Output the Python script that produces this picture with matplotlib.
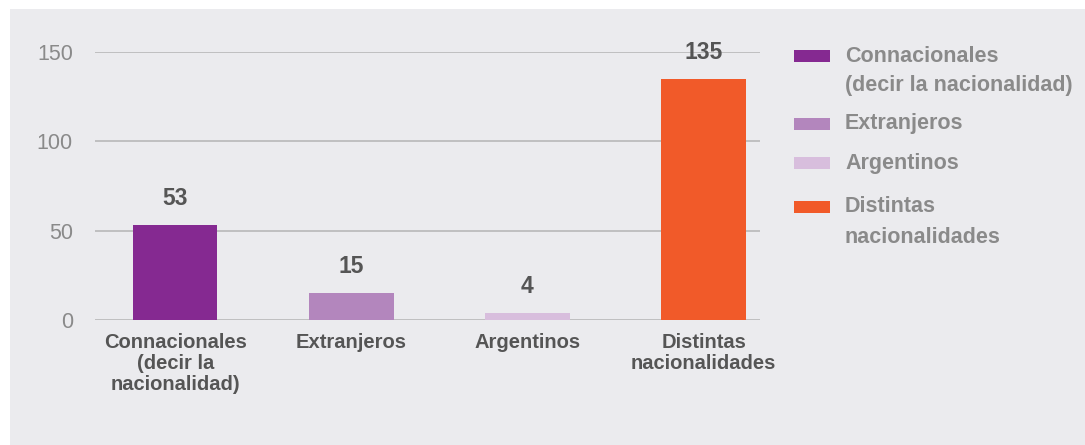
import numpy as np
import matplotlib
matplotlib.use('Agg')
import matplotlib.pyplot as plt
from matplotlib.patches import Rectangle

categories = ['Connacionales\n(decir la\nnacionalidad)', 'Extranjeros', 'Argentinos', 'Distintas\nnacionalidades']
legend_labels = ['Connacionales\n(decir la nacionalidad)', 'Extranjeros', 'Argentinos', 'Distintas\nnacionalidades']
values = [53, 15, 4, 135]
colors = ['#852991', '#b386bd', '#d8bedd', '#f15a29']
yticks = [0, 50, 100, 150]

plt.rcParams['font.family'] = ['Liberation Sans', 'DejaVu Sans']

W, H = 1085, 445
fig = plt.figure(figsize=(W / 100, H / 100), dpi=100, facecolor='white')

# grey panel
fig.patches.append(Rectangle((10 / W, 0), 1, (H - 9) / H, transform=fig.transFigure,
                             facecolor='#ebebee', edgecolor='none', zorder=-10))

ax = fig.add_axes([95 / W, 125 / H, (760 - 95) / W, (320 - 52) / H])
ax.set_facecolor('none')
ax.set_zorder(1)

x = np.arange(len(values))
bars = ax.bar(x, values, width=0.48, color=colors, zorder=3)

for xi, v in zip(x, values):
    ax.annotate(str(v), (xi, v), xytext=(0, 19), textcoords='offset points',
                ha='center', va='center', fontsize=16.5, fontweight='bold',
                color='#555555', annotation_clip=False, zorder=4)

ax.set_xlim(-0.455, 3.32)
ax.set_ylim(0, 150)
ax.set_yticks(yticks)
ax.set_yticklabels([str(t) for t in yticks])
ax.set_xticks(x)
ax.set_xticklabels(categories, fontsize=14.5, fontweight='bold', color='#555555', linespacing=1.15)
ax.tick_params(axis='y', length=0, pad=16, labelsize=15.5, labelcolor='#8a8a8a')
ax.tick_params(axis='x', length=0, pad=9)
ax.grid(axis='y', color='#b8b8b8', linewidth=1.2, zorder=1)
ax.set_axisbelow(True)
for s in ax.spines.values():
    s.set_visible(False)

# legend
centers = [56, 124, 163, 207]
for lab, col, cy in zip(legend_labels, colors, centers):
    fig.patches.append(Rectangle((794 / W, 1 - (cy + 6) / H), 36 / W, 12 / H,
                                 transform=fig.transFigure, facecolor=col, edgecolor='none'))
    for i, line in enumerate(lab.split('\n')):
        fig.text(845 / W, 1 - (cy + i * 30) / H, line, fontsize=15.5, fontweight='bold',
                 color='#8a8a8a', ha='left', va='center')

fig.savefig('out.png', dpi=100, facecolor='white')
